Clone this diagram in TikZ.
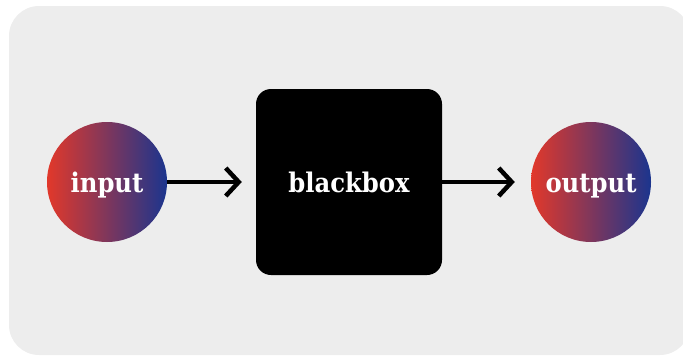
\documentclass[tikz,border=0pt]{standalone}
\usepackage{fontspec}
\newfontfamily\labelfont{DejaVu Serif Condensed}
\usetikzlibrary{arrows.meta}
\definecolor{bggray}{HTML}{EDEDED}
\definecolor{gradred}{HTML}{E2382A}
\definecolor{gradblue}{HTML}{1B358E}
\tikzset{
  lbl/.style={text=white, font=\labelfont\bfseries\fontsize{27}{30}\selectfont, text height=21pt, text depth=1pt},
  endpoint/.style={circle, minimum size=120pt, inner sep=0pt, left color=gradred, right color=gradblue, lbl},
  boxnode/.style={fill=black, rounded corners=15pt, minimum width=186pt, minimum height=186pt, inner sep=0pt, lbl},
  flow/.style={line width=4.5pt, -{Straight Barb[length=13pt,width=28pt]}}
}
\begin{document}
\begin{tikzpicture}[x=1pt,y=-1pt]
\useasboundingbox (0,0) rectangle (683,356);
\clip (0,0) rectangle (683,356);
\fill[bggray, rounded corners=30pt] (9,6) rectangle (690,355);
\node[endpoint] (in) at (107,182) {input};
\node[boxnode] (bb) at (349,182) {blackbox};
\node[endpoint] (out) at (591,182) {output};
\draw[flow, shorten >=14pt] (in) -- (bb);
\draw[flow, shorten >=16pt] (bb) -- (out);
\end{tikzpicture}
\end{document}
